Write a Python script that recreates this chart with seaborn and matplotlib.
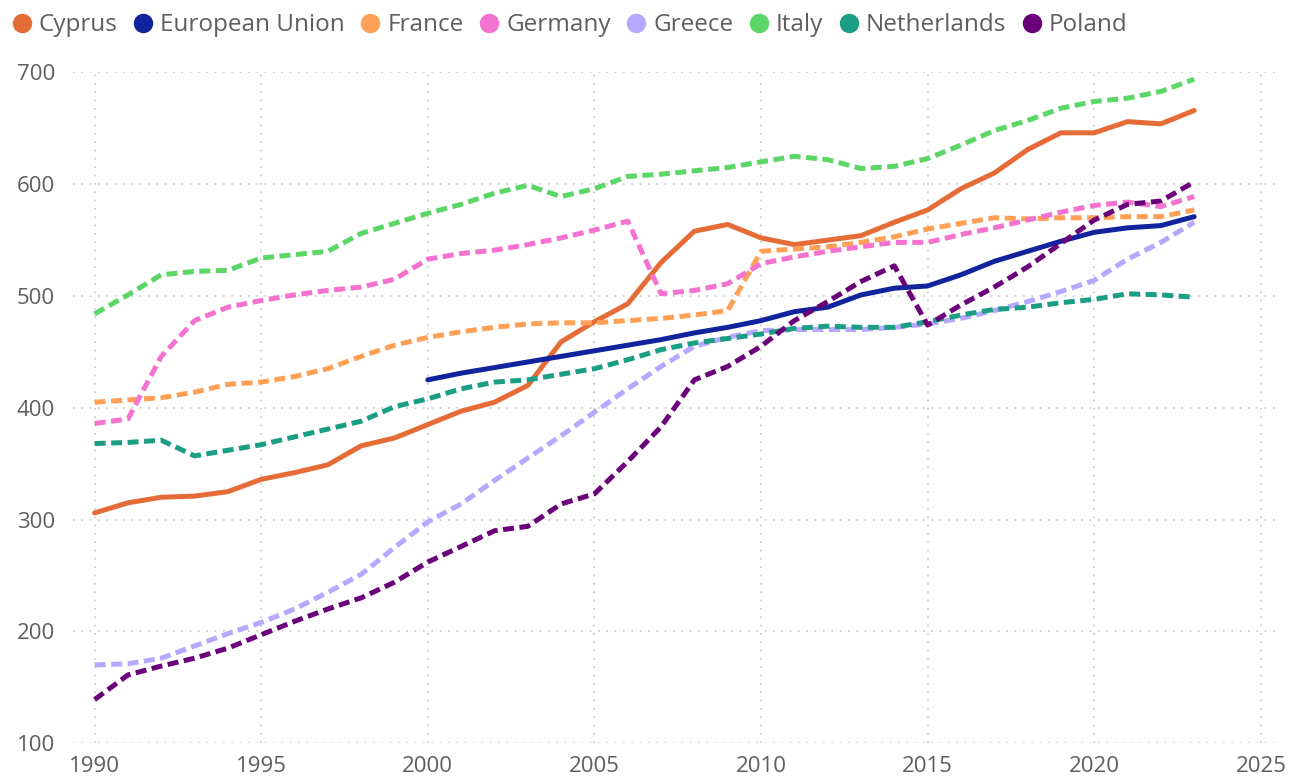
import matplotlib.pyplot as plt
import pandas as pd
import seaborn as sns
from matplotlib.lines import Line2D

sns.set_theme(style="white")
plt.rcParams["font.family"] = ["Open Sans", "DejaVu Sans"]

years = list(range(1990, 2024))
eu_years = list(range(2000, 2024))

cyprus = [306, 315, 320, 321, 325, 336, 342, 349, 366, 373, 385, 397, 405, 420,
          459, 477, 493, 530, 558, 564, 552, 546, 550, 554, 566, 577, 596, 610,
          631, 646, 646, 656, 654, 666]
european_union = [425, 431, 436, 441, 446, 451, 456, 461, 467, 472, 478, 486,
                  490, 501, 507, 509, 519, 531, 540, 549, 557, 561, 563, 571]
france = [405, 407, 409, 414, 421, 423, 428, 435, 446, 456, 463, 468, 472, 475,
          476, 476, 478, 480, 483, 487, 540, 542, 544, 548, 553, 560, 565, 570,
          569, 570, 570, 571, 571, 577]
germany = [386, 390, 446, 478, 490, 496, 501, 505, 508, 515, 533, 538, 541, 546,
           552, 559, 567, 502, 505, 511, 529, 535, 540, 544, 548, 548, 555, 561,
           568, 575, 581, 584, 580, 589]
greece = [170, 171, 176, 187, 198, 208, 220, 235, 251, 275, 298, 314, 335, 355,
          375, 396, 417, 437, 455, 463, 469, 470, 470, 470, 472, 475, 480, 487,
          495, 504, 514, 533, 548, 566]
italy = [484, 501, 519, 522, 523, 534, 537, 540, 556, 565, 574, 582, 592, 599,
         589, 596, 607, 609, 612, 615, 620, 625, 622, 614, 616, 623, 635, 648,
         657, 668, 674, 677, 683, 694]
netherlands = [368, 369, 371, 357, 362, 367, 374, 381, 388, 401, 408, 417, 423,
               425, 430, 435, 443, 452, 458, 462, 466, 471, 473, 472, 472, 477,
               483, 488, 490, 494, 497, 502, 501, 499]
poland = [139, 161, 169, 176, 185, 197, 209, 220, 230, 244, 262, 276, 290, 294,
          314, 323, 352, 383, 425, 437, 455, 478, 495, 513, 527, 474, 492, 508,
          526, 547, 568, 582, 585, 602]

names = ["Cyprus", "European Union", "France", "Germany", "Greece", "Italy",
         "Netherlands", "Poland"]
colors = ["#E66C37", "#12239E", "#FFA057", "#F472D0", "#B7A8FF", "#5BD667",
          "#1B9E83", "#6B007B"]
solid = ["Cyprus", "European Union"]

series = {
    "Cyprus": (years, cyprus),
    "European Union": (eu_years, european_union),
    "France": (years, france),
    "Germany": (years, germany),
    "Greece": (years, greece),
    "Italy": (years, italy),
    "Netherlands": (years, netherlands),
    "Poland": (years, poland),
}

frames = []
for name, (xs, ys) in series.items():
    frames.append(pd.DataFrame({"year": xs, "value": ys, "country": name}))
df = pd.concat(frames, ignore_index=True)

fig = plt.figure(figsize=(12.89, 7.79), dpi=100)
ax = fig.add_axes([0.0566, 0.046, 0.9324, 0.861])

dash_map = {n: "" if n in solid else (2.2, 1.1) for n in names}
sns.lineplot(data=df, x="year", y="value", hue="country", style="country",
             hue_order=names, style_order=names, palette=dict(zip(names, colors)),
             dashes=dash_map, linewidth=3.6, ax=ax, legend=False)
for line in ax.lines:
    line.set_solid_capstyle("round")
    line.set_dash_capstyle("butt")

ax.set_xlim(1989.35, 2025.42)
ax.set_ylim(100, 700)
ax.set_xticks(range(1990, 2026, 5))
ax.set_yticks(range(100, 701, 100))
ax.grid(True, color="#C8C8C8", linestyle=(0, (1, 4)), linewidth=1.2)
sns.despine(ax=ax, left=True, bottom=True)
ax.set_xlabel("")
ax.set_ylabel("")
ax.tick_params(axis="both", length=0, labelsize=16, labelcolor="#605E5C")
ax.tick_params(axis="y", pad=13)
ax.tick_params(axis="x", pad=9)

handles = [Line2D([], [], marker="o", linestyle="", markersize=13,
                  markerfacecolor=c, markeredgecolor=c) for c in colors]
fig.legend(handles, names, loc="upper left", bbox_to_anchor=(0.0093, 0.983),
           ncol=8, frameon=False, fontsize=17.5, handletextpad=0.3,
           columnspacing=0.65, handlelength=0.8, borderpad=0, borderaxespad=0,
           labelcolor="#605E5C")

fig.savefig("out.png", dpi=100)
